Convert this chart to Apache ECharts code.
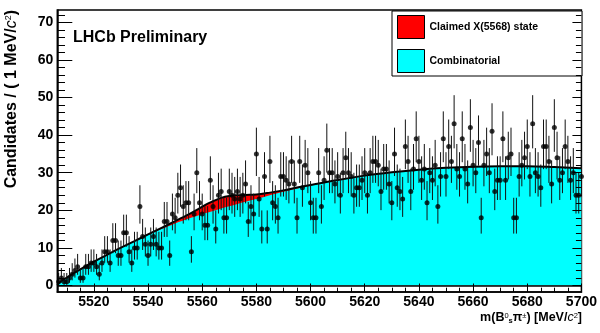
<!DOCTYPE html>
<html>
<head>
<meta charset="utf-8">
<script src="https://cdn.jsdelivr.net/npm/echarts@6/dist/echarts.min.js"></script>
<style>
  html, body { margin: 0; padding: 0; background: #fff; }
  #chart { width: 600px; height: 333px; }
</style>
</head>
<body>
<div id="chart"></div>
<script>
// Candidates per 1 MeV/c^2 bin, first bin starting at binLow
const binLow = 5506.5;
const counts = [
  1, 2, 1, 1, 2, 3, 4, 5, 2, 2, 5, 5, 6, 6, 5, 3, 6, 9, 9, 6,
  12, 12, 8, 8, 14, 14, 9, 6, 10, 10,
  21, 13, 11, 8, 11, 13, 11, 10, 10, 17,
  17, 8, 19, 18, 24, 26, 21, 22, 22, 9,
  19, 30, 22, 19, 16, 16, 28, 21, 15, 24,
  25, 18, 18, 25, 24, 23, 25, 23, 24, 27,
  17, 21, 19, 35, 23, 15, 29, 15, 33, 22,
  21, 18, 29, 29, 28, 27, 33, 27, 18, 33,
  26, 32, 30, 22, 18, 18, 30, 21, 28, 36,
  30, 30, 27, 29, 24, 30, 34, 30, 29, 24,
  26, 26, 28, 30, 24, 30, 33, 33, 32, 25,
  31, 31, 27, 22, 35, 26, 25, 23, 37, 33,
  25, 31, 39, 33, 28, 31, 22, 30, 28, 32,
  21, 29, 39, 29, 37, 33, 43, 31, 29, 39,
  31, 27, 42, 32, 30, 38, 18, 32, 35, 30,
  41, 25, 28, 28, 39, 28, 34, 35, 18, 18,
  29, 32, 34, 37, 29, 43, 30, 29, 26, 37,
  37, 33, 27, 42, 34, 28, 30, 37, 33, 28,
  30, 24, 24, 29
];

// Fit components sampled along the mass axis
const fitMass = [
  5506.5, 5507, 5508, 5510, 5512, 5515, 5520, 5525, 5530, 5535,
  5540, 5545, 5550, 5555, 5558, 5561, 5564, 5567, 5570, 5573,
  5576, 5580, 5585, 5590, 5595, 5600, 5610, 5620, 5630, 5640,
  5650, 5660, 5670, 5680, 5690, 5700
];
const combinatorial = [
  0, 0.6, 1.2, 2.1, 3.0, 4.3, 6.3, 8.2, 10.0, 11.7,
  13.4, 15.0, 16.5, 17.8, 18.5, 19.2, 19.8, 20.5, 21.1, 21.7,
  22.3, 23.0, 24.0, 24.9, 25.8, 26.6, 28.0, 29.2, 30.1, 30.8,
  31.3, 31.6, 31.7, 31.7, 31.5, 31.2
];
const claimedState = [
  0, 0, 0, 0, 0, 0.01, 0.02, 0.03, 0.05, 0.1,
  0.2, 0.35, 0.6, 1.1, 1.6, 2.2, 2.6, 2.8, 2.7, 2.3,
  1.8, 1.2, 0.7, 0.4, 0.25, 0.15, 0.06, 0.02, 0, 0,
  0, 0, 0, 0, 0, 0
];

// Axis tick positions
const xMajorTicks = [5520, 5540, 5560, 5580, 5600, 5620, 5640, 5660, 5680, 5700];
const xMinorTicks = [5510, 5515, 5525, 5530, 5535, 5545, 5550, 5555, 5565, 5570, 5575,
  5585, 5590, 5595, 5605, 5610, 5615, 5625, 5630, 5635, 5645, 5650, 5655,
  5665, 5670, 5675, 5685, 5690, 5695];
const yMajorTicks = [0, 10, 20, 30, 40, 50, 60, 70];
const yMinorTicks = [2, 4, 6, 8, 12, 14, 16, 18, 22, 24, 26, 28, 32, 34, 36, 38,
  42, 44, 46, 48, 52, 54, 56, 58, 62, 64, 66, 68, 72];

const FONT = '"Liberation Sans", Arial, Helvetica, sans-serif';
const X_MIN = 5506.5, X_MAX = 5700;
const Y_MIN = -1.73, Y_MAX = 73.27;

// Poisson (Gehrels) 68% interval for a bin content
function poissonLow(n) {
  if (n <= 0) return 0;
  const t = 1 - 1 / (9 * n) - 1 / (3 * Math.sqrt(n));
  return n * t * t * t;
}
function poissonHigh(n) {
  return n + Math.sqrt(n + 0.75) + 1;
}

const points = counts.map((n, i) => [binLow + i + 0.5, n]);
const errorBars = counts.map((n, i) => [binLow + i + 0.5, poissonLow(n), poissonHigh(n)]);
const bkgCurve = fitMass.map((m, k) => [m, combinatorial[k]]);
const totalCurve = fitMass.map((m, k) => [m, combinatorial[k] + claimedState[k]]);

function xAxisDef(ticks, len, labels) {
  return {
    type: 'value', min: X_MIN, max: X_MAX, position: 'bottom', z: 20,
    axisLine: { show: labels, onZero: false, lineStyle: { color: '#000', width: 1.5 } },
    splitLine: { show: false },
    axisTick: { show: true, inside: true, length: len, customValues: ticks,
      lineStyle: { color: '#000', width: 1 } },
    axisLabel: labels ? { show: true, customValues: ticks, margin: 3, color: '#000',
      fontFamily: FONT, fontWeight: 'bold', fontSize: 14,
      formatter: v => String(v) } : { show: false }
  };
}
function yAxisDef(pos, ticks, len, labels) {
  return {
    type: 'value', min: Y_MIN, max: Y_MAX, position: pos, z: 20,
    axisLine: { show: labels, onZero: false, lineStyle: { color: '#000', width: 1.5 } },
    splitLine: { show: false },
    axisTick: { show: true, inside: true, length: len, customValues: ticks,
      lineStyle: { color: '#000', width: 1 } },
    axisLabel: labels ? { show: true, customValues: ticks, margin: 4, color: '#000',
      fontFamily: FONT, fontWeight: 'bold', fontSize: 14,
      formatter: v => String(v) } : { show: false }
  };
}

const chart = echarts.init(document.getElementById('chart'), null, { renderer: 'canvas' });

chart.setOption({
  animation: false,
  backgroundColor: '#fff',
  grid: {
    left: 57.3, right: 17.7, top: 10, bottom: 41,
    show: true, borderColor: '#000', borderWidth: 1.5, backgroundColor: 'transparent'
  },
  xAxis: [
    xAxisDef(xMajorTicks, 8.5, true),
    xAxisDef(xMinorTicks, 4.3, false)
  ],
  yAxis: [
    yAxisDef('left', yMajorTicks, 15, true),
    yAxisDef('left', yMinorTicks, 7.7, false),
    yAxisDef('right', yMajorTicks, 9, false),
    yAxisDef('right', yMinorTicks, 5.5, false)
  ],
  legend: {
    left: 397, top: 15, orient: 'vertical', padding: 0, itemGap: 10,
    itemWidth: 27, itemHeight: 23, selectedMode: false, z: 11,
    textStyle: { fontFamily: FONT, fontWeight: 'bold', fontSize: 10.5, color: '#000',
      padding: [7, 0, 0, 0] },
    data: [
      { name: 'Claimed X(5568) state', icon: 'rect',
        itemStyle: { color: '#ff0000', borderColor: '#000', borderWidth: 1 } },
      { name: 'Combinatorial', icon: 'rect',
        itemStyle: { color: '#00ffff', borderColor: '#000', borderWidth: 1 } }
    ]
  },
  graphic: [
    { type: 'rect', z: 0, silent: true,
      shape: { x: 392, y: 11, width: 190, height: 65 },
      style: { fill: '#fff', stroke: '#000', lineWidth: 1 } },
    { type: 'text', z: 13, silent: true, x: 73, y: 37.3,
      style: { text: 'LHCb Preliminary', font: 'bold 16px ' + FONT, fill: '#000',
        textAlign: 'left', textVerticalAlign: 'middle' } },
    { type: 'text', z: 13, silent: true, x: 12, y: 10, rotation: Math.PI / 2,
      style: {
        text: 'Candidates / ( 1 MeV/{it|c}{sup|2})',
        fontFamily: FONT, fontWeight: 'bold', fontSize: 16, fill: '#000',
        textAlign: 'right', textVerticalAlign: 'middle',
        rich: {
          it: { fontFamily: FONT, fontStyle: 'italic', fontWeight: 'normal', fontSize: 16, fill: '#000' },
          sup: { fontFamily: FONT, fontWeight: 'normal', fontSize: 9, fill: '#000', verticalAlign: 'top' }
        }
      } },
    { type: 'text', z: 13, silent: true, x: 582, y: 318,
      style: {
        text: 'm(B{sup|0}{sub|s}{pi|π}{sup|±}) [MeV/{it|c}{sup|2}]',
        fontFamily: FONT, fontWeight: 'bold', fontSize: 12.5, fill: '#000',
        textAlign: 'right', textVerticalAlign: 'middle',
        rich: {
          sup: { fontFamily: FONT, fontWeight: 'normal', fontSize: 7.5, fill: '#000', verticalAlign: 'top' },
          sub: { fontFamily: FONT, fontWeight: 'bold', fontSize: 7.5, fill: '#000', verticalAlign: 'bottom' },
          pi: { fontFamily: FONT, fontWeight: 'bold', fontSize: 12.5, fill: '#000' },
          it: { fontFamily: FONT, fontStyle: 'italic', fontWeight: 'normal', fontSize: 12.5, fill: '#000' }
        }
      } }
  ],
  series: [
    {
      name: 'Claimed X(5568) state', type: 'line', data: totalCurve, z: 1,
      smooth: 0.35, symbol: 'none', silent: true,
      lineStyle: { width: 0 },
      itemStyle: { color: '#ff0000' },
      areaStyle: { color: '#ff0000', opacity: 1 }
    },
    {
      name: 'Combinatorial', type: 'line', data: bkgCurve, z: 2,
      smooth: 0.35, symbol: 'none', silent: true,
      lineStyle: { width: 0 },
      itemStyle: { color: '#00ffff' },
      areaStyle: { color: '#00ffff', opacity: 1 },
      markLine: {
        silent: true, symbol: 'none', label: { show: false },
        lineStyle: { color: '#000', width: 1.5, type: 'solid' },
        data: [{ yAxis: 0 }]
      }
    },
    {
      name: 'Fit total', type: 'line', data: totalCurve, z: 3,
      smooth: 0.35, symbol: 'none', silent: true,
      lineStyle: { color: '#000', width: 2 }
    },
    {
      name: 'Errors', type: 'custom', data: errorBars, silent: true, z: 4,
      encode: { x: 0, y: [1, 2] },
      renderItem: function (params, api) {
        const x = api.value(0);
        const p1 = api.coord([x, api.value(1)]);
        const p2 = api.coord([x, api.value(2)]);
        return {
          type: 'line',
          shape: { x1: p1[0], y1: p1[1], x2: p2[0], y2: p2[1] },
          style: { stroke: '#111', lineWidth: 1 }
        };
      }
    },
    {
      name: 'Data', type: 'scatter', data: points, silent: true, z: 5,
      symbol: 'circle', symbolSize: 5,
      itemStyle: { color: '#000' }
    }
  ]
});
</script>
</body>
</html>
